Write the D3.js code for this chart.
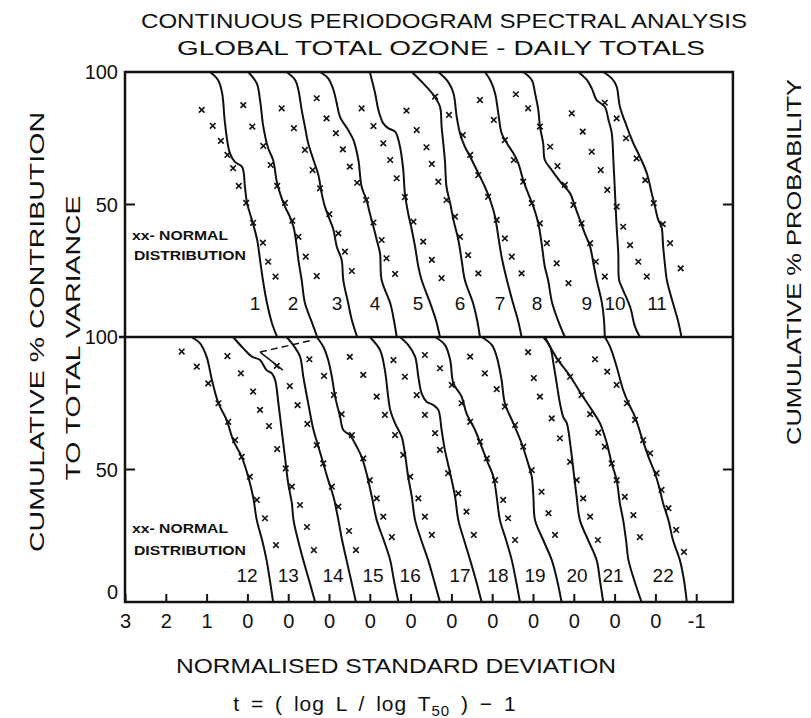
<!DOCTYPE html>
<html>
<head>
<meta charset="utf-8">
<script src="https://cdn.jsdelivr.net/npm/d3@7"></script>
<style>
  body { margin: 0; background: #fff; }
  svg text { font-family: "Liberation Sans", Arial, sans-serif; fill: #111; }
</style>
</head>
<body>
<div id="chart"></div>
<script>
// Bottom axis: one tick per unit, each curve uses its own shifted origin
const tickLabels = ['3', '2', '1', '0', '0', '0', '0', '0', '0', '0', '0', '0', '0', '0', '-1'];
const yTicksUpper = [100, 50];
const yTicksLower = [100, 50, 0];

// Upper panel, curves 1-11: [t, cumulative %]
const upperCurves = [
  [[0.92,100],[0.72,97],[0.62,92.1],[0.55,80.8],[0.43,69.4],[0.30,66],[0.13,64.2],[0.06,56.6],[0.01,50.6],[-0.11,44.2],[-0.24,36.6],[-0.31,29.1],[-0.38,21.5],[-0.48,12.8],[-0.60,5.3],[-0.73,0]],
  [[0.98,100],[0.77,95.7],[0.69,89.4],[0.61,79.4],[0.49,71.2],[0.37,66.8],[0.28,58.6],[0.20,54.2],[0.08,49.2],[-0.04,45.4],[-0.13,41.6],[-0.21,34.1],[-0.25,29.1],[-0.33,21.5],[-0.41,12.8],[-0.56,6.4],[-0.71,0]],
  [[1.04,100],[0.83,97],[0.75,93.2],[0.67,85.7],[0.59,79.4],[0.51,73.1],[0.38,66.8],[0.26,61.1],[0.18,54.2],[0.10,49.2],[-0.02,44.2],[-0.11,40.4],[-0.19,34.1],[-0.31,29.1],[-0.35,21.5],[-0.47,12.8],[-0.56,6.4],[-0.69,0]],
  [[1.22,100],[1.02,97.6],[0.89,93.2],[0.81,88.2],[0.73,83.1],[0.53,78.1],[0.40,74.3],[0.28,66.8],[0.20,56.7],[0.08,51.7],[0,46.7],[-0.09,41.6],[-0.17,36.6],[-0.25,31.6],[-0.29,21.5],[-0.50,12.8],[-0.59,6.4],[-0.66,0]],
  [[1.00,100],[0.87,92],[0.79,85.7],[0.67,80.6],[0.55,78.8],[0.38,77.5],[0.26,71.8],[0.18,63],[0.14,54.2],[0.06,46.7],[-0.03,40.4],[-0.11,34.1],[-0.19,26.5],[-0.27,21.5],[-0.48,12.8],[-0.62,6.4],[-0.72,0]],
  [[0.97,100],[0.69,95.7],[0.44,91.3],[0.28,86.9],[0.24,79.4],[0.16,66.8],[0.12,56.7],[0.03,50.5],[-0.05,44.2],[-0.17,36.6],[-0.25,29.1],[-0.33,21.5],[-0.53,12.8],[-0.63,6.4],[-0.70,0]],
  [[1.32,100],[1.08,96.3],[0.95,92],[0.87,83.1],[0.79,76.9],[0.67,71.8],[0.54,68],[0.38,63],[0.18,56.7],[0.05,51.7],[-0.07,45.4],[-0.15,37.8],[-0.23,30.3],[-0.36,21.5],[-0.51,12.8],[-0.63,6.4],[-0.72,0]],
  [[1.18,100],[1.05,97],[0.93,92],[0.85,84.4],[0.77,76.9],[0.64,73.1],[0.48,69.3],[0.36,65.5],[0.24,59.2],[0.12,54.2],[-0.01,49.2],[-0.13,42.9],[-0.21,35.4],[-0.29,26.5],[-0.37,21.5],[-0.47,12.8],[-0.61,6.4],[-0.78,0]],
  [[1.24,100],[1.03,97],[0.95,92],[0.87,85.7],[0.83,79.4],[0.75,73.1],[0.71,66.8],[0.54,63],[0.30,58],[0.09,54.2],[-0.03,49.2],[-0.15,44.2],[-0.27,39.1],[-0.40,34.1],[-0.48,27.8],[-0.56,21.5],[-0.69,12.8],[-0.74,6.4],[-0.76,0]],
  [[0.89,100],[0.68,97],[0.56,93.8],[0.44,89.4],[0.24,86.9],[0.15,81.9],[0.07,76.9],[0.03,66.8],[-0.01,54.2],[-0.05,41.6],[-0.09,31.6],[-0.11,21.5],[-0.17,19],[-0.38,11.4],[-0.50,3.9],[-0.62,0]],
  [[1.28,100],[1.07,97.6],[0.95,94.5],[0.87,86.9],[0.70,79.4],[0.54,73.1],[0.38,68],[0.21,61.8],[0.09,54.2],[0.01,49.2],[-0.07,44.2],[-0.15,41.6],[-0.19,34.1],[-0.24,26.5],[-0.28,21.5],[-0.43,12.8],[-0.55,6.4],[-0.64,0]]
];

// Upper panel, normal distribution points (x marks)
const upperNormal = [
  [[1.12,85.7],[0.85,79.7],[0.65,74],[0.49,68.7],[0.35,63.7],[0.21,57],[0.03,50.6],[-0.14,43.1],[-0.38,35.6],[-0.51,28.4],[-0.69,22.8]],
  [[1.10,87.5],[0.88,79.4],[0.61,72.1],[0.43,64.9],[0.27,57],[0.08,50.6],[-0.10,43.9],[-0.25,37.8],[-0.43,30.3],[-0.70,23]],
  [[1.16,86.3],[0.86,78.8],[0.59,70.6],[0.40,63],[0.22,56.1],[-0.01,46.4],[-0.23,39.1],[-0.39,32.2],[-0.56,24.9]],
  [[1.30,90.1],[1.06,82.5],[0.83,76.9],[0.66,70.8],[0.49,64.3],[0.31,58.2],[0.09,51.7],[-0.09,43.2],[-0.29,36.6],[-0.41,29.7],[-0.62,23.8]],
  [[1.20,86.3],[0.91,79.6],[0.67,73.1],[0.50,66.8],[0.34,59.9],[0.14,52.8],[-0.07,43.5],[-0.31,36],[-0.52,29.1],[-0.76,22.2]],
  [[1.10,85.4],[0.85,78.1],[0.61,71.6],[0.48,65.3],[0.32,58.6],[0.12,51.7],[-0.09,45.4],[-0.21,37.8],[-0.41,30.9],[-0.66,24]],
  [[1.40,90.7],[1.06,83.8],[0.72,76.2],[0.54,68.7],[0.34,61.1],[0.10,52.9],[-0.11,44.2],[-0.31,37.2],[-0.48,30.3],[-0.72,24]],
  [[1.30,89.4],[0.96,81.9],[0.69,74.3],[0.47,66.8],[0.24,58.6],[0.03,50.5],[-0.17,42.9],[-0.34,35.4],[-0.58,27.8],[-0.87,20.3]],
  [[1.42,91.6],[1.12,86.3],[0.83,79.4],[0.58,71.8],[0.40,64.5],[0.22,57.4],[0.01,49.8],[-0.19,42.9],[-0.40,35.4],[-0.54,28.4],[-0.76,22.8]],
  [[1.05,84.4],[0.78,77.5],[0.56,69.9],[0.34,63],[0.18,55.5],[-0.05,49.2],[-0.21,41.6],[-0.38,34.7],[-0.58,28.4],[-0.79,22.8]],
  [[1.24,88.4],[0.95,82.5],[0.72,75],[0.46,67.4],[0.25,59.2],[0.04,50.5],[-0.18,42.6],[-0.36,35.4],[-0.62,25.9]]
];

// Lower panel, curves 12-22
const lowerCurves = [
  [[1.37,100],[1.16,97.6],[1.00,92.6],[0.87,83.8],[0.71,75],[0.51,68.7],[0.35,61.1],[0.14,54.8],[-0.02,47.3],[-0.14,39.7],[-0.23,30.9],[-0.36,23.4],[-0.47,15.8],[-0.55,8.3],[-0.63,0]],
  [[1.35,100],[1.10,95.7],[0.89,92.6],[0.69,91.3],[0.53,87.5],[0.40,86.3],[0.32,83.8],[0.24,75],[0.16,64.9],[0.08,54.8],[0,44.8],[-0.09,37.2],[-0.13,30.9],[-0.24,23.4],[-0.37,15.8],[-0.51,8.3],[-0.66,0]],
  [[1.04,100],[0.88,97],[0.71,92.6],[0.63,85],[0.51,75],[0.38,64.9],[0.26,58.6],[0.14,52.3],[0.02,46],[-0.11,39.7],[-0.23,30.9],[-0.32,23.4],[-0.43,15.8],[-0.54,8.3],[-0.66,0]],
  [[1.30,100],[1.14,96.3],[1.02,91.3],[0.93,85],[0.85,77.5],[0.73,70],[0.65,64.9],[0.49,63],[0.32,58.6],[0.20,54.8],[0.08,48.6],[-0.05,39.7],[-0.17,30.9],[-0.34,23.4],[-0.50,15.8],[-0.59,8.3],[-0.70,0]],
  [[1.00,100],[0.75,95.1],[0.63,87.5],[0.55,77.5],[0.50,72.5],[0.38,67.4],[0.22,62.4],[0.14,56.1],[0.06,47.3],[-0.03,39.7],[-0.11,30.9],[-0.26,23.4],[-0.43,15.8],[-0.57,8.3],[-0.72,0]],
  [[1.26,100],[1.06,97],[0.89,92.6],[0.81,85],[0.73,78.7],[0.61,75.6],[0.44,74.3],[0.32,72.5],[0.24,64.9],[0.16,57.4],[0.03,48.6],[-0.09,39.7],[-0.17,30.9],[-0.31,23.4],[-0.46,15.8],[-0.60,8.3],[-0.74,0]],
  [[1.40,100],[1.16,97],[1.03,91.3],[0.95,82.5],[0.75,77.5],[0.63,71.2],[0.42,64.9],[0.26,58.6],[0.10,52.3],[-0.03,47.3],[-0.11,39.7],[-0.19,30.9],[-0.34,23.4],[-0.48,15.8],[-0.58,8.3],[-0.68,0]],
  [[1.26,100],[1.01,97],[0.89,92.6],[0.77,83.8],[0.69,75],[0.48,67.4],[0.28,59.9],[0.12,52.3],[0.03,47.3],[-0.01,39.7],[-0.05,30.9],[-0.25,23.4],[-0.46,15.8],[-0.59,8.3],[-0.70,0]],
  [[0.75,100],[0.58,96.3],[0.50,90.1],[0.42,82.5],[0.34,75],[0.26,69.9],[0.17,67.4],[0.09,59.9],[0.01,49.8],[-0.07,39.7],[-0.15,30.9],[-0.35,23.4],[-0.56,15.8],[-0.64,8.3],[-0.72,0]],
  [[1.71,100],[1.42,92.1],[1.09,85.2],[0.81,78.3],[0.56,72.5],[0.36,67.5],[0.19,59.9],[0.07,52.3],[-0.05,46],[-0.13,37.2],[-0.21,30.9],[-0.28,23.4],[-0.34,15.8],[-0.48,8.3],[-0.66,0]],
  [[1.24,100],[1.11,96.3],[0.95,88.8],[0.79,80],[0.66,75],[0.50,69.9],[0.34,62.4],[0.17,54.8],[0.01,48.6],[-0.11,42.3],[-0.19,37.2],[-0.32,30.9],[-0.43,23.4],[-0.60,15.8],[-0.70,8.3],[-0.77,0]]
];

const lowerNormal = [
  [[1.61,94.5],[1.24,88.8],[0.96,82.5],[0.71,75],[0.47,68],[0.30,61.1],[0.14,54.8],[-0.06,47.3],[-0.23,38.5],[-0.43,31.6],[-0.70,21.5]],
  [[1.49,92.8],[1.16,86.3],[0.86,79.4],[0.69,72.5],[0.47,66.4],[0.27,57.7],[0.06,50.4],[-0.09,43.5],[-0.29,36.6],[-0.46,28.3],[-0.63,19.6]],
  [[1.28,89.1],[0.96,81.5],[0.77,74.3],[0.53,67.2],[0.30,59.2],[0.14,52.3],[-0.07,43.5],[-0.23,36],[-0.49,26.8],[-0.66,19.6]],
  [[1.48,91.6],[1.12,85.3],[0.88,78.1],[0.69,70.9],[0.44,63],[0.16,54.2],[0,46],[-0.17,39.1],[-0.33,32.2],[-0.54,24.5]],
  [[1.49,92.5],[1.16,85.7],[0.83,77.5],[0.63,70.6],[0.38,63],[0.18,55.5],[0.01,47.3],[-0.19,39.1],[-0.35,32.2],[-0.52,25.3]],
  [[1.42,91.3],[1.14,85],[0.85,78.1],[0.65,70.6],[0.40,63.7],[0.28,57.4],[0.08,48.6],[-0.17,41],[-0.37,34.1],[-0.55,25.3]],
  [[1.65,93.2],[1.28,88.2],[0.99,81.9],[0.75,75],[0.54,68],[0.30,60.5],[0.13,54.2],[-0.07,46],[-0.27,38.5],[-0.39,31.6],[-0.56,23.4]],
  [[1.54,92.6],[1.18,86.3],[0.89,80.3],[0.69,73.7],[0.44,66.8],[0.24,58.6],[0.03,49.8],[-0.21,41.6],[-0.38,33.5],[-0.54,25.3]],
  [[1.12,94.3],[0.98,84.5],[0.83,77.5],[0.54,69.3],[0.34,61.8],[0.09,52.9],[-0.07,46],[-0.23,39.1],[-0.40,32.2],[-0.59,23.4]],
  [[1.38,91.3],[1.09,85],[0.81,78.1],[0.60,70.9],[0.40,63.9],[0.24,58.6],[0.07,52.3],[-0.05,46],[-0.25,39.7],[-0.46,32.8],[-0.62,24.5]],
  [[1.48,91.6],[1.18,86.9],[0.95,81.9],[0.70,75],[0.50,68.7],[0.30,61.1],[0.13,56.1],[-0.03,48.6],[-0.15,42.3],[-0.32,35.4],[-0.51,27.2],[-0.70,18.9]]
];

// Curve number labels: position on the tick scale, and height in %
const upperLabelNames = ['1','2','3','4','5','6','7','8','9','10','11'];
const upperLabelPos = [3.19, 4.12, 5.20, 6.13, 7.18, 8.21, 9.19, 10.10, 11.32, 12.01, 13.04];
const lowerLabelNames = ['12','13','14','15','16','17','18','19','20','21','22'];
const lowerLabelPos = [2.99, 4.00, 5.10, 6.08, 6.99, 8.21, 9.14, 10.05, 11.08, 11.96, 13.19];
const upperLabelPct = 12.8;
const lowerLabelPct = 10.2;

// Hand-drawn pointer near curve 13 (tick units, %)
const pointerSolid = [[3.31, 94.3], [3.87, 87.5]];
const pointerDashed = [[3.31, 94.3], [4.61, 98.9]];

function drawChart() {
  const W = 811, H = 718;
  const svg = d3.select('#chart').append('svg')
    .attr('width', W)
    .attr('height', H);

  const xScale = d3.scaleLinear().domain([0, 14]).range([125, 696.2]);
  const xRight = xScale(14.9);
  const yUpper = d3.scaleLinear().domain([0, 100]).range([337, 72]);
  const yLower = d3.scaleLinear().domain([0, 100]).range([602, 337]);

  // Frame and separator
  svg.append('rect')
    .attr('x', xScale(0)).attr('y', yUpper(100))
    .attr('width', xRight - xScale(0))
    .attr('height', yLower(0) - yUpper(100))
    .attr('fill', 'none').attr('stroke', '#111').attr('stroke-width', 2.5);
  svg.append('line')
    .attr('x1', xScale(0) - 6).attr('x2', xRight)
    .attr('y1', yUpper(0)).attr('y2', yUpper(0))
    .attr('stroke', '#111').attr('stroke-width', 2.5);

  // Inward ticks at 50% on both sides
  [yUpper(50), yLower(50)].forEach(y => {
    svg.append('line').attr('x1', xScale(0)).attr('x2', xScale(0) + 10)
      .attr('y1', y).attr('y2', y).attr('stroke', '#111').attr('stroke-width', 2);
    svg.append('line').attr('x1', xRight - 10).attr('x2', xRight)
      .attr('y1', y).attr('y2', y).attr('stroke', '#111').attr('stroke-width', 2);
  });

  // Bottom axis, ticks pointing up
  const xAxis = d3.axisBottom(xScale)
    .tickValues(d3.range(tickLabels.length))
    .tickFormat(i => tickLabels[i])
    .tickSize(-8)
    .tickPadding(10);
  const gx = svg.append('g')
    .attr('transform', `translate(0,${yLower(0)})`)
    .call(xAxis);
  gx.select('.domain').remove();
  gx.selectAll('line').attr('stroke', '#111').attr('stroke-width', 2);
  gx.selectAll('text')
    .attr('font-size', 20)
    .attr('fill', '#111')
    .attr('dy', '0.78em');

  // Left value labels
  const yLabels = [
    ...yTicksUpper.map(v => ({ v, y: yUpper(v) })),
    ...yTicksLower.map(v => ({ v, y: v === 0 ? yLower(v) - 10 : yLower(v) }))
  ];
  svg.selectAll('.ylab')
    .data(yLabels)
    .enter()
    .append('text')
    .attr('class', 'ylab')
    .attr('x', 118)
    .attr('y', d => d.y)
    .attr('dy', '0.36em')
    .attr('text-anchor', 'end')
    .attr('font-size', 20)
    .text(d => d.v);

  const line = d3.line().curve(d3.curveCatmullRom.alpha(0.5));
  const xMark = d3.symbol().type(d3.symbolX).size(22);

  // draw one panel: curve j sits at offset j on the tick scale
  function drawPanel(curves, normals, yScale, names, labelPos, labelPct) {
    const g = svg.append('g');

    curves.forEach((pts, i) => {
      const off = 3 + i;
      g.append('path')
        .attr('d', line(pts.map(p => [xScale(off - p[0]), yScale(p[1])])))
        .attr('fill', 'none')
        .attr('stroke', '#111')
        .attr('stroke-width', 2);
    });

    normals.forEach((pts, i) => {
      const off = 3 + i;
      g.selectAll(null)
        .data(pts)
        .enter()
        .append('path')
        .attr('transform', p => `translate(${xScale(off - p[0])},${yScale(p[1])})`)
        .attr('d', xMark)
        .attr('fill', 'none')
        .attr('stroke', '#111')
        .attr('stroke-width', 1.6);
    });

    g.selectAll('.clab')
      .data(names)
      .enter()
      .append('text')
      .attr('class', 'clab')
      .attr('x', (d, i) => xScale(labelPos[i]))
      .attr('y', yScale(labelPct))
      .attr('dy', '0.36em')
      .attr('text-anchor', 'middle')
      .attr('font-size', 19)
      .text(d => d);
  }

  drawPanel(upperCurves, upperNormal, yUpper, upperLabelNames, upperLabelPos, upperLabelPct);
  drawPanel(lowerCurves, lowerNormal, yLower, lowerLabelNames, lowerLabelPos, lowerLabelPct);

  // pointer scribble near curve 13
  svg.append('path')
    .attr('d', d3.line()(pointerSolid.map(p => [xScale(p[0]), yLower(p[1])])))
    .attr('stroke', '#111').attr('stroke-width', 1.5).attr('fill', 'none');
  svg.append('path')
    .attr('d', d3.line()(pointerDashed.map(p => [xScale(p[0]), yLower(p[1])])))
    .attr('stroke', '#111').attr('stroke-width', 1.5).attr('fill', 'none')
    .attr('stroke-dasharray', '7,4');

  // "xx- NORMAL DISTRIBUTION" notes
  [[240, 260], [533, 555]].forEach(([y1, y2]) => {
    svg.append('text').attr('x', 132).attr('y', y1)
      .attr('font-size', 12).attr('font-weight', 'bold')
      .attr('textLength', 96).attr('lengthAdjust', 'spacingAndGlyphs')
      .text('xx- NORMAL');
    svg.append('text').attr('x', 134).attr('y', y2)
      .attr('font-size', 12).attr('font-weight', 'bold')
      .attr('textLength', 112).attr('lengthAdjust', 'spacingAndGlyphs')
      .text('DISTRIBUTION');
  });

  // Titles
  svg.append('text').attr('x', 444).attr('y', 28)
    .attr('text-anchor', 'middle').attr('font-size', 20)
    .attr('textLength', 606).attr('lengthAdjust', 'spacingAndGlyphs')
    .text('CONTINUOUS PERIODOGRAM SPECTRAL ANALYSIS');
  svg.append('text').attr('x', 441).attr('y', 55)
    .attr('text-anchor', 'middle').attr('font-size', 20)
    .attr('textLength', 528).attr('lengthAdjust', 'spacingAndGlyphs')
    .text('GLOBAL TOTAL OZONE - DAILY TOTALS');

  // Left axis titles
  svg.append('text')
    .attr('transform', 'translate(44,332) rotate(-90)')
    .attr('text-anchor', 'middle').attr('font-size', 21)
    .attr('textLength', 440).attr('lengthAdjust', 'spacingAndGlyphs')
    .text('CUMULATIVE % CONTRIBUTION');
  svg.append('text')
    .attr('transform', 'translate(80,338) rotate(-90)')
    .attr('text-anchor', 'middle').attr('font-size', 21)
    .attr('textLength', 285).attr('lengthAdjust', 'spacingAndGlyphs')
    .text('TO TOTAL VARIANCE');

  // Right axis title
  svg.append('text')
    .attr('transform', 'translate(801,262) rotate(-90)')
    .attr('text-anchor', 'middle').attr('font-size', 21)
    .attr('textLength', 366).attr('lengthAdjust', 'spacingAndGlyphs')
    .text('CUMULATIVE %  PROBABILITY');

  // Bottom axis titles
  svg.append('text').attr('x', 396).attr('y', 673)
    .attr('text-anchor', 'middle').attr('font-size', 20)
    .attr('textLength', 440).attr('lengthAdjust', 'spacingAndGlyphs')
    .text('NORMALISED STANDARD DEVIATION');

  const f = svg.append('text').attr('x', 375).attr('y', 711)
    .attr('text-anchor', 'middle').attr('font-size', 21)
    .attr('letter-spacing', 1)
    .attr('word-spacing', 4);
  f.append('tspan').text('t = ( log L / log T');
  f.append('tspan').attr('font-size', 15).attr('dy', 5).text('50');
  f.append('tspan').attr('dy', -5).text(' ) \u2212 1');
}

drawChart();
</script>
</body>
</html>
